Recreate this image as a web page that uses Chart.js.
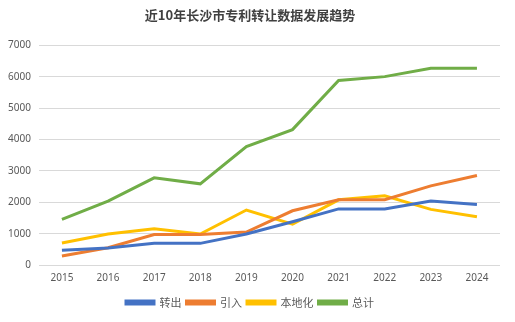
<!DOCTYPE html>
<html>
<head>
<meta charset="utf-8">
<script src="https://cdn.jsdelivr.net/npm/chart.js@4"></script>
<style>
  html, body { margin: 0; padding: 0; background: #fff; }
  #wrap { width: 515px; height: 322px; }
</style>
</head>
<body>
<div id="wrap"><canvas id="linechart"></canvas></div>
<script>
// years on x axis
const years = ['2015', '2016', '2017', '2018', '2019', '2020', '2021', '2022', '2023', '2024'];

// series values
const zhuanchu = [470, 540, 690, 690, 990, 1380, 1790, 1790, 2040, 1930];
const yinru = [290, 550, 970, 970, 1050, 1730, 2080, 2080, 2525, 2855];
const bendihua = [700, 990, 1160, 990, 1755, 1300, 2080, 2210, 1775, 1540];
const zongji = [1455, 2040, 2780, 2590, 3780, 4320, 5890, 6010, 6280, 6280];

const seriesNames = ['转出', '引入', '本地化', '总计'];
const seriesColors = ['#4472C4', '#ED7D31', '#FFC000', '#70AD47'];
const seriesData = [zhuanchu, yinru, bendihua, zongji];

const FONT = '"Noto Sans CJK SC", "Noto Sans", sans-serif';

const datasets = seriesData.map((vals, i) => ({
    label: seriesNames[i],
    data: vals,
    borderColor: seriesColors[i],
    backgroundColor: seriesColors[i],
    borderWidth: 3,
    pointRadius: 0,
    tension: 0
}));

const ctx = document.getElementById('linechart').getContext('2d');
new Chart(ctx, {
    type: 'line',
    data: { labels: years, datasets: datasets },
    options: {
        responsive: true,
        maintainAspectRatio: false,
        animation: false,
        layout: { padding: { left: 0, right: 15, top: 7, bottom: 4 } },
        plugins: {
            title: {
                display: true,
                text: '近10年长沙市专利转让数据发展趋势',
                color: '#404040',
                font: { family: FONT, size: 13, weight: 'bold' },
                padding: { top: 0, bottom: 23 }
            },
            legend: {
                position: 'bottom',
                labels: {
                    color: '#595959',
                    font: { family: FONT, size: 11 },
                    boxWidth: 28,
                    boxHeight: 3,
                    padding: 5
                }
            },
            tooltip: { enabled: false }
        },
        scales: {
            x: {
                offset: true,
                grid: { display: false, drawTicks: false },
                border: { display: false },
                ticks: { color: '#595959', font: { family: '"Noto Sans", sans-serif', size: 10, lineHeight: 0.9 }, padding: 9, maxRotation: 0 }
            },
            y: {
                min: 0,
                max: 7000,
                grid: { color: '#D9D9D9', drawTicks: false },
                border: { display: false },
                ticks: {
                    stepSize: 1000,
                    color: '#595959',
                    font: { family: '"Noto Sans", sans-serif', size: 10 },
                    padding: 8,
                    callback: v => String(v)
                }
            }
        }
    }
});
</script>
</body>
</html>
